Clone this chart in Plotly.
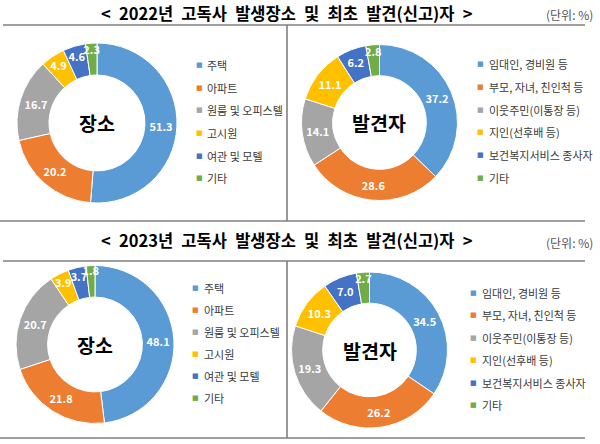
import plotly.graph_objects as go

# ---- data ----
place_labels = ["주택", "아파트", "원룸 및 오피스텔", "고시원", "여관 및 모텔", "기타"]
place_2022 = [51.3, 20.2, 16.7, 4.9, 4.6, 2.3]
place_2023 = [48.1, 21.8, 20.7, 3.9, 3.7, 1.8]

finder_labels = ["임대인, 경비원 등", "부모, 자녀, 친인척 등", "이웃주민(이통장 등)",
                 "지인(선후배 등)", "보건복지서비스 종사자", "기타"]
finder_2022 = [37.2, 28.6, 14.1, 11.1, 6.2, 2.8]
finder_2023 = [34.5, 26.2, 19.3, 10.3, 7.0, 2.7]

titles = ["< 2022년 고독사 발생장소 및 최초 발견(신고)자 >",
          "< 2023년 고독사 발생장소 및 최초 발견(신고)자 >"]
unit_text = "(단위: %)"
center_texts = ["장소", "발견자", "장소", "발견자"]

colors = ["#5B9BD5", "#ED7D31", "#A5A5A5", "#FFC000", "#4472C4", "#70AD47"]

W, H = 600, 444
FONT = "Noto Sans CJK KR"


def fx(px):
    return px / W


def fy(py):
    return 1 - py / H


# pie geometry in pixels: (cx, cy, r)
pies = [
    (place_labels, place_2022, (97, 123, 80)),
    (finder_labels, finder_2022, (379.5, 122.5, 78)),
    (place_labels, place_2023, (95, 344.5, 79)),
    (finder_labels, finder_2023, (369.5, 350, 78)),
]
# legend geometry: (marker x, text x, first row y, row step)
legends = [
    (199, 205, 65, 22.7),
    (480, 487, 64, 22.8),
    (195, 202, 288, 22.0),
    (473, 480, 293, 22.4),
]

fig = go.Figure()
annotations = []
for i, (labels, vals, (cx, cy, r)) in enumerate(pies):
    fig.add_trace(go.Pie(
        labels=labels, values=vals, sort=False, direction="clockwise",
        rotation=0, hole=0.6,
        marker=dict(colors=colors, line=dict(color="white", width=1)),
        texttemplate="%{value:.1f}", textposition="inside",
        insidetextorientation="horizontal",
        textfont=dict(color="white", size=11, family=FONT, weight="bold"),
        domain=dict(x=[fx(cx - r), fx(cx + r)], y=[fy(cy + r), fy(cy - r)]),
        showlegend=False, hoverinfo="label+value",
    ))
    annotations.append(dict(
        x=fx(cx), y=fy(cy), xref="paper", yref="paper", text=center_texts[i],
        showarrow=False, font=dict(size=19.5, color="black", family=FONT, weight="bold"),
        xanchor="center", yanchor="middle"))
    mx, tx, y0, step = legends[i]
    for k, lab in enumerate(labels):
        yy = y0 + k * step
        annotations.append(dict(
            x=fx(mx), y=fy(yy), xref="paper", yref="paper", text="■",
            showarrow=False, font=dict(size=7, color=colors[k], family="DejaVu Sans"),
            xanchor="center", yanchor="middle"))
        annotations.append(dict(
            x=fx(tx), y=fy(yy), xref="paper", yref="paper", text=lab,
            showarrow=False, font=dict(size=11, color="#3A3A3A", family=FONT),
            xanchor="left", yanchor="middle"))

# titles and unit texts (wider word spacing as in the reference)
for ty, t in zip([13, 240], titles):
    annotations.append(dict(
        x=fx(287), y=fy(ty), xref="paper", yref="paper",
        text=t.replace(" ", "\u2002"), showarrow=False,
        font=dict(size=16.5, color="black", family=FONT, weight="bold"),
        xanchor="center", yanchor="middle"))
for uy in [14, 242]:
    annotations.append(dict(
        x=fx(595), y=fy(uy), xref="paper", yref="paper", text=unit_text,
        showarrow=False, font=dict(size=12, color="#555555", family=FONT),
        xanchor="right", yanchor="middle"))

line_style = dict(color="#7F7F7F", width=1.6)
shapes = []
for (y_top, y_bot) in [(25, 221), (261, 438)]:
    shapes.append(dict(type="line", xref="paper", yref="paper",
                       x0=fx(3), x1=fx(585), y0=fy(y_top), y1=fy(y_top), line=line_style))
    shapes.append(dict(type="line", xref="paper", yref="paper",
                       x0=fx(0), x1=fx(585), y0=fy(y_bot), y1=fy(y_bot), line=line_style))
    shapes.append(dict(type="line", xref="paper", yref="paper",
                       x0=fx(287), x1=fx(287), y0=fy(y_top), y1=fy(y_bot), line=line_style))

fig.update_layout(
    width=W, height=H, margin=dict(l=0, r=0, t=0, b=0),
    paper_bgcolor="white", plot_bgcolor="white",
    font=dict(family=FONT),
    uniformtext=dict(minsize=11, mode="show"),
    annotations=annotations, shapes=shapes,
)

fig.write_html("out.html", config={"displayModeBar": False},
               post_script="document.body.style.margin='0';document.body.style.overflow='hidden';")
